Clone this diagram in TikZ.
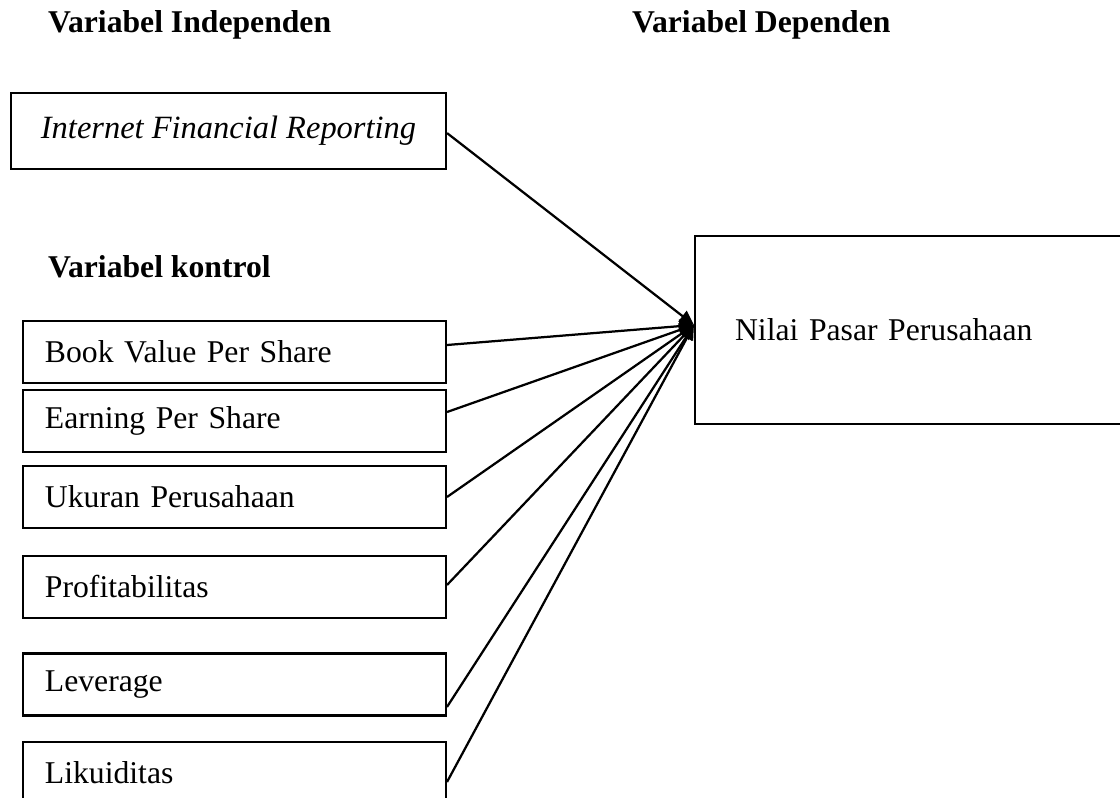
\documentclass[tikz,border=0pt]{standalone}
\usepackage{fontspec}
\setmainfont{Liberation Serif}
\usetikzlibrary{arrows.meta}

\begin{document}
\begin{tikzpicture}[x=0.3788pt, y=-0.3788pt, line width=0.8pt,
   font=\fontsize{12}{14}\selectfont,
   head/.style={font=\fontsize{12}{14}\selectfont\bfseries, anchor=base west, inner sep=0pt},
   ctrl/.style={draw, text width=143.6pt, inner xsep=8.3pt, minimum height=23.5pt, align=left},
   arr/.style={line width=0.85pt, -{Triangle[length=5.5pt,width=5pt]}}]
   \useasboundingbox (0,0) rectangle (1120,798);

   \node[head] (hind) at (47,33) {Variabel Independen};
   \node[head] (hdep) at (631,33) {Variabel Dependen};
   \node[head] (hkon) at (47,278) {Variabel kontrol};

   \node[draw, minimum width=164.8pt, minimum height=28.8pt] (ifr) at (228.5,131)
      {\fontsize{12.3}{14}\selectfont\itshape Internet Financial Reporting};

   \foreach \n/\t/\y in {bvps/Book Value Per Share/352, eps/Earning Per Share/421,
      uk/Ukuran Perusahaan/497, prof/Profitabilitas/587, lev/Leverage/684.5,
      lik/Likuiditas/773}
   \node[ctrl] (\n) at (234.5,\y) {\t};

   \node[draw, text width=132.5pt, inner xsep=15.2pt, minimum height=71.2pt, align=left]
      (nilai) at (910,330) {Nilai Pasar Perusahaan};

   \coordinate (tip) at ([yshift=1.9pt]nilai.west);

   \foreach \n/\s in {ifr/-0.8, bvps/2.65, eps/3.4, uk/0, prof/0.76, lev/-8.5, lik/-3.4}
   \draw[arr] ([yshift=\s pt]\n.east) -- (tip);

\end{tikzpicture}
\end{document}
